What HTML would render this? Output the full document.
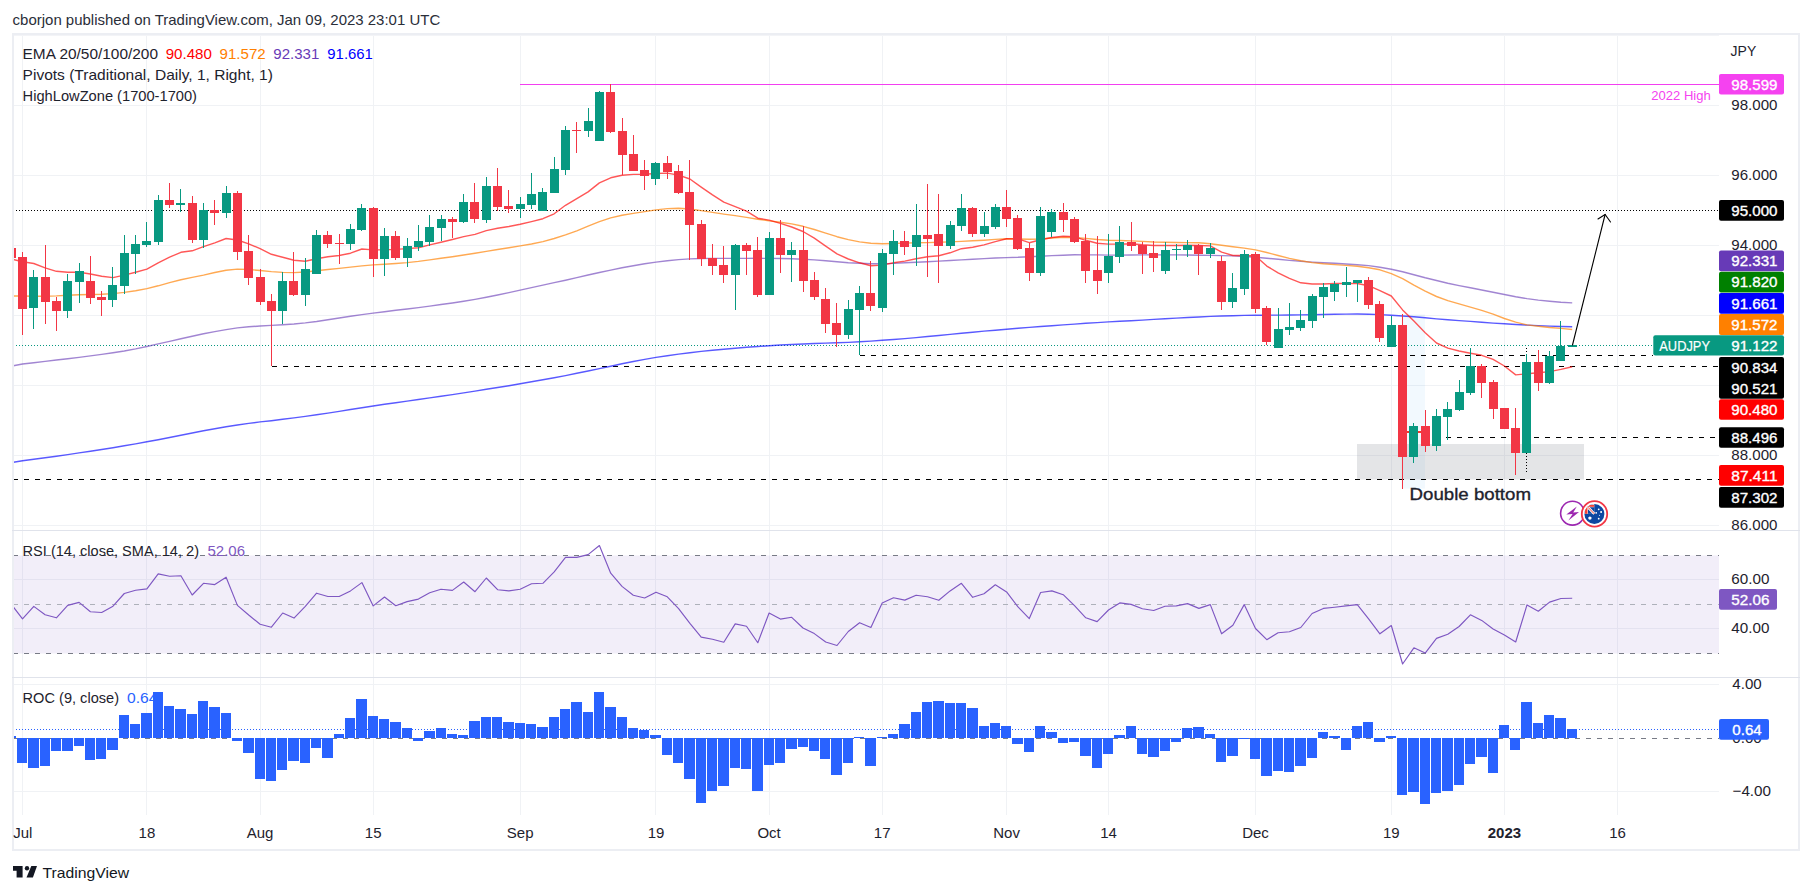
<!DOCTYPE html>
<html><head><meta charset="utf-8"><title>AUDJPY chart</title><style>html,body{margin:0;padding:0;background:#fff}svg{display:block}</style></head><body>
<svg width="1812" height="894" viewBox="0 0 1812 894" font-family='"Liberation Sans", Arial, sans-serif' font-size="14.5">
<rect width="1812" height="894" fill="#fff"/>
<g stroke="#f0f2f5" stroke-width="1" shape-rendering="crispEdges">
<line x1="22.5" y1="35" x2="22.5" y2="815"/>
<line x1="146.5" y1="35" x2="146.5" y2="815"/>
<line x1="260.5" y1="35" x2="260.5" y2="815"/>
<line x1="373.5" y1="35" x2="373.5" y2="815"/>
<line x1="520.5" y1="35" x2="520.5" y2="815"/>
<line x1="655.5" y1="35" x2="655.5" y2="815"/>
<line x1="769.5" y1="35" x2="769.5" y2="815"/>
<line x1="882.5" y1="35" x2="882.5" y2="815"/>
<line x1="1006.5" y1="35" x2="1006.5" y2="815"/>
<line x1="1108.5" y1="35" x2="1108.5" y2="815"/>
<line x1="1255.5" y1="35" x2="1255.5" y2="815"/>
<line x1="1391.5" y1="35" x2="1391.5" y2="815"/>
<line x1="1504.5" y1="35" x2="1504.5" y2="815"/>
<line x1="1617.5" y1="35" x2="1617.5" y2="815"/>
<line x1="13" y1="105.5" x2="1719" y2="105.5"/>
<line x1="13" y1="175.5" x2="1719" y2="175.5"/>
<line x1="13" y1="245.5" x2="1719" y2="245.5"/>
<line x1="13" y1="315.5" x2="1719" y2="315.5"/>
<line x1="13" y1="385.5" x2="1719" y2="385.5"/>
<line x1="13" y1="455.5" x2="1719" y2="455.5"/>
<line x1="13" y1="525.5" x2="1719" y2="525.5"/>
<line x1="13" y1="579.5" x2="1719" y2="579.5"/>
<line x1="13" y1="628.5" x2="1719" y2="628.5"/>
<line x1="13" y1="684.5" x2="1719" y2="684.5"/>
<line x1="13" y1="791.5" x2="1719" y2="791.5"/>
</g>
<rect x="1401.6" y="314.3" width="23.4" height="174.3" fill="#2196f3" fill-opacity="0.06"/>
<rect x="1357" y="444" width="227" height="35.5" fill="#787b86" fill-opacity="0.2"/>
<rect x="13" y="555.5" width="1706" height="98" fill="#7e57c2" fill-opacity="0.1"/>
<line x1="520" y1="84.5" x2="1719" y2="84.5" stroke="#f23ff0" stroke-width="1.2"/>
<line x1="13" y1="210.5" x2="1719" y2="210.5" stroke="#000" stroke-width="1" stroke-dasharray="1 2" shape-rendering="crispEdges"/>
<line x1="13" y1="345.5" x2="1653" y2="345.5" stroke="#089981" stroke-width="1" stroke-dasharray="1 2" shape-rendering="crispEdges"/>
<line x1="860" y1="355.5" x2="1653" y2="355.5" stroke="#000" stroke-width="1" stroke-dasharray="5 6" shape-rendering="crispEdges"/>
<line x1="271.5" y1="366.5" x2="1719" y2="366.5" stroke="#000" stroke-width="1" stroke-dasharray="5 6" shape-rendering="crispEdges"/>
<line x1="1446" y1="437.5" x2="1719" y2="437.5" stroke="#000" stroke-width="1" stroke-dasharray="5 6" shape-rendering="crispEdges"/>
<line x1="13" y1="479.5" x2="1719" y2="479.5" stroke="#000" stroke-width="1" stroke-dasharray="5 6" shape-rendering="crispEdges"/>
<line x1="13" y1="555.5" x2="1719" y2="555.5" stroke="#787b86" stroke-width="1" stroke-dasharray="5 6" shape-rendering="crispEdges"/>
<line x1="13" y1="604.5" x2="1719" y2="604.5" stroke="#aeb1ba" stroke-width="1" stroke-dasharray="5 6" shape-rendering="crispEdges"/>
<line x1="13" y1="653.5" x2="1719" y2="653.5" stroke="#787b86" stroke-width="1" stroke-dasharray="5 6" shape-rendering="crispEdges"/>
<line x1="13" y1="738.5" x2="1719" y2="738.5" stroke="#787b86" stroke-width="1" stroke-dasharray="5 6" shape-rendering="crispEdges"/>
<line x1="13" y1="729.5" x2="1719" y2="729.5" stroke="#2962ff" stroke-width="1" stroke-dasharray="1 2" shape-rendering="crispEdges"/>
<clipPath id="cp"><rect x="13" y="34" width="1706" height="496.5"/></clipPath>
<g clip-path="url(#cp)" fill="none" stroke-width="1.4" stroke-linejoin="round">
<polyline stroke="#0000ff" stroke-opacity="0.65" points="13.5,462.2 22.5,460.8 33.8,459.3 45.1,457.7 56.4,456.2 67.7,454.6 79.1,452.9 90.4,451.2 101.7,449.5 113.0,447.7 124.3,445.8 135.6,443.9 146.9,441.8 158.2,439.7 169.6,437.5 180.9,435.3 192.2,433.0 203.5,430.8 214.8,428.7 226.1,426.8 237.4,425.0 248.7,423.4 260.1,421.9 271.4,420.7 282.7,419.3 294.0,417.9 305.3,416.4 316.6,414.8 327.9,413.1 339.2,411.4 350.5,409.5 361.9,407.7 373.2,406.0 384.5,404.3 395.8,402.7 407.1,401.1 418.4,399.5 429.7,397.9 441.0,396.3 452.4,394.6 463.7,392.9 475.0,391.1 486.3,389.3 497.6,387.5 508.9,385.7 520.2,383.7 531.5,381.7 542.9,379.7 554.2,377.7 565.5,375.6 576.8,373.3 588.1,371.0 599.4,368.6 610.7,366.2 622.0,363.8 633.3,361.5 644.7,359.4 656.0,357.4 667.3,355.7 678.6,354.1 689.9,352.7 701.2,351.4 712.5,350.3 723.8,349.3 735.2,348.3 746.5,347.3 757.8,346.5 769.1,345.7 780.4,345.0 791.7,344.5 803.0,344.0 814.3,343.5 825.7,343.1 837.0,342.8 848.3,342.4 859.6,341.8 870.9,341.1 882.2,340.3 893.5,339.5 904.8,338.6 916.1,337.6 927.5,336.5 938.8,335.5 950.1,334.4 961.4,333.3 972.7,332.2 984.0,331.1 995.3,330.2 1006.6,329.3 1018.0,328.3 1029.3,327.4 1040.6,326.5 1051.9,325.7 1063.2,324.9 1074.5,324.1 1085.8,323.3 1097.1,322.6 1108.5,321.9 1119.8,321.3 1131.1,320.7 1142.4,320.1 1153.7,319.4 1165.0,318.8 1176.3,318.1 1187.6,317.5 1198.9,317.0 1210.3,316.4 1221.6,316.0 1232.9,315.7 1244.2,315.4 1255.5,315.3 1266.8,315.2 1278.1,315.1 1289.4,315.0 1300.8,314.9 1312.1,314.8 1323.4,314.5 1334.7,314.3 1346.0,314.1 1357.3,314.0 1368.6,314.2 1379.9,314.6 1391.3,315.2 1402.6,316.0 1413.9,316.8 1425.2,317.8 1436.5,318.9 1447.8,319.8 1459.1,320.6 1470.4,321.4 1481.7,322.3 1493.1,323.1 1504.4,323.8 1515.7,324.5 1527.0,325.1 1538.3,325.6 1549.6,326.1 1560.9,326.5 1572.2,326.8"/>
<polyline stroke="#673ab7" stroke-opacity="0.62" points="13.4,365.7 22.5,364.0 33.8,362.8 45.1,361.4 56.4,360.0 67.7,358.7 79.1,357.4 90.4,355.9 101.7,354.4 113.0,352.8 124.3,351.0 135.6,348.9 146.9,346.5 158.2,343.9 169.6,341.4 180.9,338.8 192.2,336.3 203.5,333.8 214.8,331.6 226.1,329.6 237.4,327.9 248.7,326.8 260.1,326.0 271.4,325.4 282.7,324.8 294.0,324.0 305.3,322.9 316.6,321.5 327.9,319.8 339.2,318.0 350.5,316.3 361.9,314.6 373.2,313.1 384.5,311.7 395.8,310.3 407.1,309.0 418.4,307.6 429.7,306.1 441.0,304.5 452.4,303.0 463.7,301.3 475.0,299.4 486.3,297.3 497.6,295.0 508.9,292.6 520.2,290.1 531.5,287.6 542.9,285.1 554.2,282.6 565.5,280.2 576.8,277.6 588.1,275.0 599.4,272.5 610.7,270.1 622.0,267.8 633.3,265.7 644.7,263.8 656.0,262.1 667.3,260.7 678.6,259.6 689.9,258.9 701.2,258.5 712.5,258.4 723.8,258.4 735.2,258.4 746.5,258.4 757.8,258.3 769.1,258.4 780.4,258.5 791.7,258.8 803.0,259.2 814.3,259.9 825.7,260.8 837.0,261.7 848.3,262.7 859.6,263.3 870.9,263.7 882.2,263.7 893.5,263.4 904.8,262.8 916.1,262.3 927.5,261.7 938.8,261.1 950.1,260.5 961.4,259.9 972.7,259.2 984.0,258.6 995.3,258.0 1006.6,257.6 1018.0,257.3 1029.3,256.7 1040.6,256.2 1051.9,255.6 1063.2,255.2 1074.5,254.8 1085.8,254.9 1097.1,254.9 1108.5,255.1 1119.8,255.1 1131.1,255.0 1142.4,254.9 1153.7,254.9 1165.0,254.9 1176.3,254.9 1187.6,255.0 1198.9,255.2 1210.3,255.4 1221.6,255.6 1232.9,255.9 1244.2,256.5 1255.5,257.3 1266.8,258.2 1278.1,259.3 1289.4,260.4 1300.8,261.3 1312.1,262.1 1323.4,262.8 1334.7,263.3 1346.0,264.0 1357.3,264.7 1368.6,265.6 1379.9,267.3 1391.3,269.3 1402.6,271.8 1413.9,274.7 1425.2,277.8 1436.5,280.5 1447.8,283.2 1459.1,285.6 1470.4,287.8 1481.7,290.0 1493.1,292.3 1504.4,294.5 1515.7,296.7 1527.0,298.6 1538.3,300.1 1549.6,301.2 1560.9,302.2 1572.2,302.9"/>
<polyline stroke="#ff8000" stroke-opacity="0.68" points="13.4,296.0 22.5,296.0 33.8,296.2 45.1,296.2 56.4,295.9 67.7,295.3 79.1,294.8 90.4,294.5 101.7,294.2 113.0,293.6 124.3,292.4 135.6,290.8 146.9,288.6 158.2,285.8 169.6,282.6 180.9,279.8 192.2,277.4 203.5,275.1 214.8,272.5 226.1,270.3 237.4,269.1 248.7,269.5 260.1,270.5 271.4,271.6 282.7,272.4 294.0,272.6 305.3,272.0 316.6,270.8 327.9,269.5 339.2,268.4 350.5,267.1 361.9,265.9 373.2,264.9 384.5,264.2 395.8,263.5 407.1,262.6 418.4,261.4 429.7,259.9 441.0,258.2 452.4,256.7 463.7,255.0 475.0,253.2 486.3,251.4 497.6,249.5 508.9,247.8 520.2,245.9 531.5,244.0 542.9,241.6 554.2,238.5 565.5,234.9 576.8,230.8 588.1,226.2 599.4,221.7 610.7,217.9 622.0,215.3 633.3,213.4 644.7,211.6 656.0,209.9 667.3,208.6 678.6,208.2 689.9,209.0 701.2,210.6 712.5,212.4 723.8,214.1 735.2,215.6 746.5,217.4 757.8,219.2 769.1,220.9 780.4,222.3 791.7,223.9 803.0,226.3 814.3,229.5 825.7,233.2 837.0,236.7 848.3,239.6 859.6,241.9 870.9,243.2 882.2,243.7 893.5,243.5 904.8,243.1 916.1,242.8 927.5,242.6 938.8,242.3 950.1,241.9 961.4,241.4 972.7,240.8 984.0,240.2 995.3,239.4 1006.6,238.8 1018.0,239.0 1029.3,239.3 1040.6,239.0 1051.9,238.0 1063.2,237.3 1074.5,237.5 1085.8,238.4 1097.1,239.5 1108.5,240.2 1119.8,240.5 1131.1,240.9 1142.4,241.4 1153.7,242.0 1165.0,242.3 1176.3,242.5 1187.6,242.6 1198.9,242.8 1210.3,243.8 1221.6,245.3 1232.9,246.8 1244.2,248.1 1255.5,249.9 1266.8,252.5 1278.1,255.5 1289.4,258.4 1300.8,260.8 1312.1,262.6 1323.4,263.8 1334.7,264.6 1346.0,265.4 1357.3,266.3 1368.6,267.8 1379.9,269.8 1391.3,273.7 1402.6,278.6 1413.9,285.1 1425.2,291.2 1436.5,296.5 1447.8,300.7 1459.1,303.9 1470.4,307.1 1481.7,310.4 1493.1,314.2 1504.4,318.5 1515.7,322.1 1527.0,324.9 1538.3,326.3 1549.6,327.5 1560.9,328.4 1572.2,329.5"/>
<polyline stroke="#ff0000" stroke-opacity="0.66" points="13.4,259.5 22.5,261.7 33.8,263.5 45.1,267.8 56.4,271.3 67.7,272.2 79.1,272.2 90.4,274.0 101.7,276.3 113.0,277.6 124.3,275.1 135.6,272.2 146.9,269.1 158.2,262.8 169.6,257.2 180.9,252.3 192.2,250.8 203.5,246.7 214.8,242.9 226.1,238.5 237.4,240.0 248.7,243.8 260.1,248.7 271.4,254.3 282.7,257.2 294.0,260.2 305.3,261.3 316.6,258.8 327.9,256.8 339.2,255.5 350.5,253.2 361.9,249.0 373.2,249.9 384.5,249.9 395.8,249.4 407.1,248.6 418.4,247.8 429.7,244.9 441.0,242.2 452.4,239.5 463.7,236.6 475.0,234.4 486.3,230.6 497.6,228.3 508.9,226.5 520.2,224.3 531.5,221.6 542.9,218.7 554.2,213.8 565.5,205.3 576.8,198.6 588.1,191.9 599.4,182.9 610.7,177.8 622.0,175.3 633.3,174.4 644.7,174.2 656.0,173.5 667.3,173.1 678.6,175.1 689.9,179.0 701.2,187.1 712.5,194.9 723.8,202.2 735.2,206.7 746.5,211.1 757.8,218.2 769.1,220.1 780.4,223.4 791.7,227.0 803.0,231.5 814.3,238.2 825.7,246.1 837.0,253.9 848.3,259.0 859.6,262.8 870.9,265.7 882.2,265.1 893.5,262.8 904.8,261.1 916.1,258.8 927.5,256.8 938.8,255.7 950.1,252.8 961.4,248.7 972.7,247.2 984.0,244.9 995.3,241.6 1006.6,238.7 1018.0,238.9 1029.3,242.7 1040.6,239.8 1051.9,237.5 1063.2,236.2 1074.5,236.8 1085.8,240.3 1097.1,243.2 1108.5,244.1 1119.8,244.1 1131.1,243.7 1142.4,244.8 1153.7,245.5 1165.0,245.5 1176.3,245.5 1187.6,245.3 1198.9,245.5 1210.3,245.9 1221.6,252.2 1232.9,255.5 1244.2,255.5 1255.5,256.0 1266.8,266.1 1278.1,272.8 1289.4,278.4 1300.8,282.8 1312.1,284.0 1323.4,284.0 1334.7,283.5 1346.0,283.5 1357.3,283.5 1368.6,285.7 1379.9,290.6 1391.3,296.0 1402.6,309.9 1413.9,321.1 1425.2,332.7 1436.5,343.0 1447.8,348.1 1459.1,351.0 1470.4,353.2 1481.7,355.3 1493.1,359.3 1504.4,366.0 1515.7,374.9 1527.0,373.8 1538.3,372.7 1549.6,371.6 1560.9,369.4 1572.2,366.7"/>
</g>
<line x1="1526.5" y1="348" x2="1526.5" y2="473" stroke="#000" stroke-width="1" stroke-dasharray="1 2" shape-rendering="crispEdges"/>
<rect x="1401.6" y="431" width="23.4" height="2" fill="#f4382c" shape-rendering="crispEdges"/>
<g clip-path="url(#cp)" shape-rendering="crispEdges">
<rect x="13" y="248" width="3" height="10" fill="#f23645"/>
<rect x="22" y="252" width="1" height="83" fill="#f23645"/>
<rect x="18" y="257" width="9" height="52" fill="#f23645"/>
<rect x="33" y="270" width="1" height="59" fill="#089981"/>
<rect x="29" y="277" width="9" height="31" fill="#089981"/>
<rect x="45" y="245" width="1" height="79" fill="#f23645"/>
<rect x="41" y="277" width="9" height="25" fill="#f23645"/>
<rect x="56" y="297" width="1" height="34" fill="#f23645"/>
<rect x="52" y="301" width="9" height="10" fill="#f23645"/>
<rect x="67" y="274" width="1" height="44" fill="#089981"/>
<rect x="63" y="281" width="9" height="30" fill="#089981"/>
<rect x="79" y="263" width="1" height="40" fill="#089981"/>
<rect x="75" y="271" width="9" height="11" fill="#089981"/>
<rect x="90" y="256" width="1" height="48" fill="#f23645"/>
<rect x="86" y="281" width="9" height="17" fill="#f23645"/>
<rect x="101" y="291" width="1" height="25" fill="#f23645"/>
<rect x="97" y="297" width="9" height="3" fill="#f23645"/>
<rect x="112" y="267" width="1" height="40" fill="#089981"/>
<rect x="108" y="285" width="9" height="15" fill="#089981"/>
<rect x="124" y="235" width="1" height="59" fill="#089981"/>
<rect x="120" y="253" width="9" height="33" fill="#089981"/>
<rect x="135" y="235" width="1" height="39" fill="#089981"/>
<rect x="131" y="244" width="9" height="10" fill="#089981"/>
<rect x="146" y="222" width="1" height="25" fill="#089981"/>
<rect x="142" y="241" width="9" height="4" fill="#089981"/>
<rect x="158" y="195" width="1" height="50" fill="#089981"/>
<rect x="154" y="200" width="9" height="42" fill="#089981"/>
<rect x="169" y="183" width="1" height="25" fill="#f23645"/>
<rect x="165" y="200" width="9" height="5" fill="#f23645"/>
<rect x="180" y="189" width="1" height="23" fill="#089981"/>
<rect x="176" y="203" width="9" height="2" fill="#089981"/>
<rect x="192" y="196" width="1" height="47" fill="#f23645"/>
<rect x="188" y="203" width="9" height="37" fill="#f23645"/>
<rect x="203" y="203" width="1" height="45" fill="#089981"/>
<rect x="199" y="210" width="9" height="30" fill="#089981"/>
<rect x="214" y="200" width="1" height="25" fill="#f23645"/>
<rect x="210" y="210" width="9" height="3" fill="#f23645"/>
<rect x="226" y="186" width="1" height="32" fill="#089981"/>
<rect x="222" y="193" width="9" height="20" fill="#089981"/>
<rect x="237" y="191" width="1" height="69" fill="#f23645"/>
<rect x="233" y="193" width="9" height="59" fill="#f23645"/>
<rect x="248" y="235" width="1" height="50" fill="#f23645"/>
<rect x="244" y="251" width="9" height="27" fill="#f23645"/>
<rect x="260" y="269" width="1" height="36" fill="#f23645"/>
<rect x="256" y="277" width="9" height="25" fill="#f23645"/>
<rect x="271" y="294" width="1" height="72" fill="#f23645"/>
<rect x="267" y="301" width="9" height="10" fill="#f23645"/>
<rect x="282" y="272" width="1" height="52" fill="#089981"/>
<rect x="278" y="281" width="9" height="30" fill="#089981"/>
<rect x="293" y="252" width="1" height="44" fill="#f23645"/>
<rect x="289" y="281" width="9" height="14" fill="#f23645"/>
<rect x="305" y="258" width="1" height="48" fill="#089981"/>
<rect x="301" y="269" width="9" height="26" fill="#089981"/>
<rect x="316" y="230" width="1" height="44" fill="#089981"/>
<rect x="312" y="235" width="9" height="39" fill="#089981"/>
<rect x="327" y="231" width="1" height="17" fill="#f23645"/>
<rect x="323" y="235" width="9" height="9" fill="#f23645"/>
<rect x="339" y="234" width="1" height="30" fill="#f23645"/>
<rect x="335" y="243" width="9" height="1" fill="#f23645"/>
<rect x="350" y="224" width="1" height="26" fill="#089981"/>
<rect x="346" y="229" width="9" height="15" fill="#089981"/>
<rect x="361" y="204" width="1" height="27" fill="#089981"/>
<rect x="357" y="208" width="9" height="22" fill="#089981"/>
<rect x="373" y="207" width="1" height="70" fill="#f23645"/>
<rect x="369" y="208" width="9" height="51" fill="#f23645"/>
<rect x="384" y="228" width="1" height="48" fill="#089981"/>
<rect x="380" y="236" width="9" height="23" fill="#089981"/>
<rect x="395" y="231" width="1" height="29" fill="#f23645"/>
<rect x="391" y="236" width="9" height="22" fill="#f23645"/>
<rect x="407" y="238" width="1" height="29" fill="#089981"/>
<rect x="403" y="246" width="9" height="12" fill="#089981"/>
<rect x="418" y="225" width="1" height="26" fill="#089981"/>
<rect x="414" y="241" width="9" height="6" fill="#089981"/>
<rect x="429" y="215" width="1" height="31" fill="#089981"/>
<rect x="425" y="227" width="9" height="15" fill="#089981"/>
<rect x="441" y="215" width="1" height="26" fill="#089981"/>
<rect x="437" y="219" width="9" height="9" fill="#089981"/>
<rect x="452" y="217" width="1" height="21" fill="#f23645"/>
<rect x="448" y="219" width="9" height="3" fill="#f23645"/>
<rect x="463" y="194" width="1" height="29" fill="#089981"/>
<rect x="459" y="202" width="9" height="20" fill="#089981"/>
<rect x="474" y="183" width="1" height="40" fill="#f23645"/>
<rect x="470" y="202" width="9" height="17" fill="#f23645"/>
<rect x="486" y="177" width="1" height="46" fill="#089981"/>
<rect x="482" y="186" width="9" height="34" fill="#089981"/>
<rect x="497" y="168" width="1" height="43" fill="#f23645"/>
<rect x="493" y="186" width="9" height="21" fill="#f23645"/>
<rect x="508" y="190" width="1" height="23" fill="#f23645"/>
<rect x="504" y="206" width="9" height="3" fill="#f23645"/>
<rect x="520" y="197" width="1" height="21" fill="#089981"/>
<rect x="516" y="204" width="9" height="5" fill="#089981"/>
<rect x="531" y="173" width="1" height="36" fill="#089981"/>
<rect x="527" y="194" width="9" height="11" fill="#089981"/>
<rect x="542" y="188" width="1" height="23" fill="#089981"/>
<rect x="538" y="192" width="9" height="19" fill="#089981"/>
<rect x="554" y="157" width="1" height="36" fill="#089981"/>
<rect x="550" y="169" width="9" height="24" fill="#089981"/>
<rect x="565" y="126" width="1" height="49" fill="#089981"/>
<rect x="561" y="130" width="9" height="40" fill="#089981"/>
<rect x="576" y="122" width="1" height="31" fill="#f23645"/>
<rect x="572" y="130" width="9" height="1" fill="#f23645"/>
<rect x="588" y="108" width="1" height="29" fill="#089981"/>
<rect x="584" y="121" width="9" height="10" fill="#089981"/>
<rect x="599" y="91" width="1" height="50" fill="#089981"/>
<rect x="595" y="92" width="9" height="49" fill="#089981"/>
<rect x="610" y="84" width="1" height="49" fill="#f23645"/>
<rect x="606" y="92" width="9" height="40" fill="#f23645"/>
<rect x="622" y="118" width="1" height="57" fill="#f23645"/>
<rect x="618" y="131" width="9" height="24" fill="#f23645"/>
<rect x="633" y="135" width="1" height="36" fill="#f23645"/>
<rect x="629" y="154" width="9" height="17" fill="#f23645"/>
<rect x="644" y="160" width="1" height="30" fill="#f23645"/>
<rect x="640" y="170" width="9" height="6" fill="#f23645"/>
<rect x="655" y="162" width="1" height="23" fill="#089981"/>
<rect x="651" y="163" width="9" height="16" fill="#089981"/>
<rect x="667" y="156" width="1" height="23" fill="#f23645"/>
<rect x="663" y="163" width="9" height="9" fill="#f23645"/>
<rect x="678" y="165" width="1" height="29" fill="#f23645"/>
<rect x="674" y="171" width="9" height="22" fill="#f23645"/>
<rect x="689" y="160" width="1" height="100" fill="#f23645"/>
<rect x="685" y="192" width="9" height="33" fill="#f23645"/>
<rect x="701" y="220" width="1" height="46" fill="#f23645"/>
<rect x="697" y="224" width="9" height="35" fill="#f23645"/>
<rect x="712" y="244" width="1" height="31" fill="#f23645"/>
<rect x="708" y="258" width="9" height="8" fill="#f23645"/>
<rect x="723" y="246" width="1" height="37" fill="#f23645"/>
<rect x="719" y="265" width="9" height="10" fill="#f23645"/>
<rect x="735" y="244" width="1" height="66" fill="#089981"/>
<rect x="731" y="245" width="9" height="30" fill="#089981"/>
<rect x="746" y="243" width="1" height="32" fill="#f23645"/>
<rect x="742" y="245" width="9" height="6" fill="#f23645"/>
<rect x="757" y="237" width="1" height="60" fill="#f23645"/>
<rect x="753" y="250" width="9" height="45" fill="#f23645"/>
<rect x="769" y="232" width="1" height="63" fill="#089981"/>
<rect x="765" y="238" width="9" height="57" fill="#089981"/>
<rect x="780" y="220" width="1" height="53" fill="#f23645"/>
<rect x="776" y="238" width="9" height="17" fill="#f23645"/>
<rect x="791" y="242" width="1" height="40" fill="#089981"/>
<rect x="787" y="250" width="9" height="5" fill="#089981"/>
<rect x="803" y="226" width="1" height="66" fill="#f23645"/>
<rect x="799" y="250" width="9" height="31" fill="#f23645"/>
<rect x="814" y="272" width="1" height="28" fill="#f23645"/>
<rect x="810" y="280" width="9" height="17" fill="#f23645"/>
<rect x="825" y="288" width="1" height="45" fill="#f23645"/>
<rect x="821" y="299" width="9" height="25" fill="#f23645"/>
<rect x="836" y="303" width="1" height="44" fill="#f23645"/>
<rect x="832" y="323" width="9" height="12" fill="#f23645"/>
<rect x="848" y="300" width="1" height="39" fill="#089981"/>
<rect x="844" y="309" width="9" height="26" fill="#089981"/>
<rect x="859" y="286" width="1" height="69" fill="#089981"/>
<rect x="855" y="293" width="9" height="17" fill="#089981"/>
<rect x="870" y="261" width="1" height="50" fill="#f23645"/>
<rect x="866" y="293" width="9" height="13" fill="#f23645"/>
<rect x="882" y="249" width="1" height="63" fill="#089981"/>
<rect x="878" y="253" width="9" height="55" fill="#089981"/>
<rect x="893" y="230" width="1" height="45" fill="#089981"/>
<rect x="889" y="241" width="9" height="13" fill="#089981"/>
<rect x="904" y="231" width="1" height="24" fill="#f23645"/>
<rect x="900" y="241" width="9" height="6" fill="#f23645"/>
<rect x="916" y="204" width="1" height="62" fill="#089981"/>
<rect x="912" y="235" width="9" height="12" fill="#089981"/>
<rect x="927" y="184" width="1" height="93" fill="#f23645"/>
<rect x="923" y="235" width="9" height="4" fill="#f23645"/>
<rect x="938" y="194" width="1" height="89" fill="#f23645"/>
<rect x="934" y="234" width="9" height="12" fill="#f23645"/>
<rect x="950" y="221" width="1" height="28" fill="#089981"/>
<rect x="946" y="225" width="9" height="21" fill="#089981"/>
<rect x="961" y="194" width="1" height="37" fill="#089981"/>
<rect x="957" y="208" width="9" height="18" fill="#089981"/>
<rect x="972" y="207" width="1" height="30" fill="#f23645"/>
<rect x="968" y="208" width="9" height="26" fill="#f23645"/>
<rect x="984" y="212" width="1" height="25" fill="#089981"/>
<rect x="980" y="226" width="9" height="8" fill="#089981"/>
<rect x="995" y="204" width="1" height="25" fill="#089981"/>
<rect x="991" y="207" width="9" height="20" fill="#089981"/>
<rect x="1006" y="190" width="1" height="37" fill="#f23645"/>
<rect x="1002" y="207" width="9" height="12" fill="#f23645"/>
<rect x="1017" y="215" width="1" height="35" fill="#f23645"/>
<rect x="1013" y="218" width="9" height="31" fill="#f23645"/>
<rect x="1029" y="243" width="1" height="38" fill="#f23645"/>
<rect x="1025" y="248" width="9" height="25" fill="#f23645"/>
<rect x="1040" y="207" width="1" height="69" fill="#089981"/>
<rect x="1036" y="216" width="9" height="57" fill="#089981"/>
<rect x="1051" y="209" width="1" height="28" fill="#089981"/>
<rect x="1047" y="212" width="9" height="20" fill="#089981"/>
<rect x="1063" y="203" width="1" height="29" fill="#f23645"/>
<rect x="1059" y="212" width="9" height="8" fill="#f23645"/>
<rect x="1074" y="217" width="1" height="26" fill="#f23645"/>
<rect x="1070" y="219" width="9" height="23" fill="#f23645"/>
<rect x="1085" y="234" width="1" height="49" fill="#f23645"/>
<rect x="1081" y="241" width="9" height="30" fill="#f23645"/>
<rect x="1097" y="236" width="1" height="58" fill="#f23645"/>
<rect x="1093" y="270" width="9" height="11" fill="#f23645"/>
<rect x="1108" y="234" width="1" height="49" fill="#089981"/>
<rect x="1104" y="256" width="9" height="17" fill="#089981"/>
<rect x="1119" y="226" width="1" height="37" fill="#089981"/>
<rect x="1115" y="242" width="9" height="15" fill="#089981"/>
<rect x="1131" y="222" width="1" height="29" fill="#f23645"/>
<rect x="1127" y="242" width="9" height="4" fill="#f23645"/>
<rect x="1142" y="242" width="1" height="32" fill="#f23645"/>
<rect x="1138" y="245" width="9" height="9" fill="#f23645"/>
<rect x="1153" y="241" width="1" height="31" fill="#f23645"/>
<rect x="1149" y="253" width="9" height="5" fill="#f23645"/>
<rect x="1165" y="242" width="1" height="32" fill="#089981"/>
<rect x="1161" y="250" width="9" height="21" fill="#089981"/>
<rect x="1176" y="244" width="1" height="16" fill="#089981"/>
<rect x="1172" y="249" width="9" height="1" fill="#089981"/>
<rect x="1187" y="240" width="1" height="17" fill="#089981"/>
<rect x="1183" y="245" width="9" height="5" fill="#089981"/>
<rect x="1198" y="244" width="1" height="31" fill="#f23645"/>
<rect x="1194" y="245" width="9" height="9" fill="#f23645"/>
<rect x="1210" y="243" width="1" height="15" fill="#089981"/>
<rect x="1206" y="248" width="9" height="6" fill="#089981"/>
<rect x="1221" y="256" width="1" height="54" fill="#f23645"/>
<rect x="1217" y="261" width="9" height="41" fill="#f23645"/>
<rect x="1232" y="273" width="1" height="35" fill="#089981"/>
<rect x="1228" y="288" width="9" height="14" fill="#089981"/>
<rect x="1244" y="250" width="1" height="45" fill="#089981"/>
<rect x="1240" y="254" width="9" height="35" fill="#089981"/>
<rect x="1255" y="252" width="1" height="61" fill="#f23645"/>
<rect x="1251" y="254" width="9" height="55" fill="#f23645"/>
<rect x="1266" y="306" width="1" height="39" fill="#f23645"/>
<rect x="1262" y="308" width="9" height="34" fill="#f23645"/>
<rect x="1278" y="308" width="1" height="40" fill="#089981"/>
<rect x="1274" y="329" width="9" height="19" fill="#089981"/>
<rect x="1289" y="303" width="1" height="32" fill="#089981"/>
<rect x="1285" y="327" width="9" height="3" fill="#089981"/>
<rect x="1300" y="310" width="1" height="21" fill="#089981"/>
<rect x="1296" y="320" width="9" height="8" fill="#089981"/>
<rect x="1312" y="294" width="1" height="34" fill="#089981"/>
<rect x="1308" y="296" width="9" height="25" fill="#089981"/>
<rect x="1323" y="283" width="1" height="35" fill="#089981"/>
<rect x="1319" y="287" width="9" height="10" fill="#089981"/>
<rect x="1334" y="281" width="1" height="20" fill="#089981"/>
<rect x="1330" y="284" width="9" height="8" fill="#089981"/>
<rect x="1346" y="267" width="1" height="30" fill="#089981"/>
<rect x="1342" y="282" width="9" height="3" fill="#089981"/>
<rect x="1357" y="280" width="1" height="22" fill="#089981"/>
<rect x="1353" y="280" width="9" height="3" fill="#089981"/>
<rect x="1368" y="277" width="1" height="32" fill="#f23645"/>
<rect x="1364" y="280" width="9" height="25" fill="#f23645"/>
<rect x="1379" y="301" width="1" height="41" fill="#f23645"/>
<rect x="1375" y="304" width="9" height="34" fill="#f23645"/>
<rect x="1391" y="316" width="1" height="31" fill="#089981"/>
<rect x="1387" y="325" width="9" height="22" fill="#089981"/>
<rect x="1402" y="314" width="1" height="175" fill="#f23645"/>
<rect x="1398" y="325" width="9" height="132" fill="#f23645"/>
<rect x="1413" y="423" width="1" height="40" fill="#089981"/>
<rect x="1409" y="426" width="9" height="31" fill="#089981"/>
<rect x="1425" y="410" width="1" height="42" fill="#f23645"/>
<rect x="1421" y="426" width="9" height="20" fill="#f23645"/>
<rect x="1436" y="409" width="1" height="42" fill="#089981"/>
<rect x="1432" y="416" width="9" height="30" fill="#089981"/>
<rect x="1447" y="402" width="1" height="38" fill="#089981"/>
<rect x="1443" y="409" width="9" height="8" fill="#089981"/>
<rect x="1459" y="380" width="1" height="31" fill="#089981"/>
<rect x="1455" y="392" width="9" height="18" fill="#089981"/>
<rect x="1470" y="348" width="1" height="47" fill="#089981"/>
<rect x="1466" y="366" width="9" height="27" fill="#089981"/>
<rect x="1481" y="364" width="1" height="34" fill="#f23645"/>
<rect x="1477" y="366" width="9" height="17" fill="#f23645"/>
<rect x="1493" y="380" width="1" height="39" fill="#f23645"/>
<rect x="1489" y="382" width="9" height="27" fill="#f23645"/>
<rect x="1504" y="408" width="1" height="21" fill="#f23645"/>
<rect x="1500" y="408" width="9" height="21" fill="#f23645"/>
<rect x="1515" y="408" width="1" height="67" fill="#f23645"/>
<rect x="1511" y="428" width="9" height="25" fill="#f23645"/>
<rect x="1526" y="354" width="1" height="99" fill="#089981"/>
<rect x="1522" y="362" width="9" height="91" fill="#089981"/>
<rect x="1538" y="350" width="1" height="41" fill="#f23645"/>
<rect x="1534" y="362" width="9" height="21" fill="#f23645"/>
<rect x="1549" y="351" width="1" height="33" fill="#089981"/>
<rect x="1545" y="356" width="9" height="27" fill="#089981"/>
<rect x="1560" y="321" width="1" height="40" fill="#089981"/>
<rect x="1556" y="346" width="9" height="15" fill="#089981"/>
<rect x="1572" y="345" width="1" height="2" fill="#089981"/>
<rect x="1568" y="345" width="9" height="2" fill="#089981"/>
</g>
<g stroke="#000" stroke-width="1.1" fill="none" stroke-linecap="round"><line x1="1572.5" y1="345" x2="1605.1" y2="214.5"/><polyline points="1598,219 1605.1,214.5 1610.5,222"/></g>
<clipPath id="cp2"><rect x="13" y="530.5" width="1706" height="147.0"/></clipPath>
<polyline clip-path="url(#cp2)" fill="none" stroke="#7e57c2" stroke-width="1.15" stroke-linejoin="round" points="11.2,604.1 22.5,618.9 33.8,606.4 45.1,614.8 56.4,617.8 67.7,605.4 79.1,602.4 90.4,611.7 101.7,612.5 113.0,606.2 124.3,593.5 135.6,590.2 146.9,588.9 158.2,573.9 169.6,576.2 180.9,575.7 192.2,595.0 203.5,583.3 214.8,584.6 226.1,577.2 237.4,605.4 248.7,615.0 260.1,624.2 271.4,627.2 282.7,613.0 294.0,618.1 305.3,606.4 316.6,593.2 327.9,596.5 339.2,596.5 350.5,590.9 361.9,582.6 373.2,605.9 384.5,597.0 395.8,605.7 407.1,601.6 418.4,599.1 429.7,592.7 441.0,589.2 452.4,590.4 463.7,582.0 475.0,591.7 486.3,578.0 497.6,589.7 508.9,590.9 520.2,589.2 531.5,583.8 542.9,583.3 554.2,571.9 565.5,557.4 576.8,557.4 588.1,554.6 599.4,545.5 610.7,573.2 622.0,586.4 633.3,595.2 644.7,598.0 656.0,592.2 667.3,596.8 678.6,608.7 689.9,623.4 701.2,637.1 712.5,639.2 723.8,642.2 735.2,623.9 746.5,626.2 757.8,642.7 769.1,613.0 780.4,619.1 791.7,617.3 803.0,628.0 814.3,633.6 825.7,642.0 837.0,645.5 848.3,631.5 859.6,622.7 870.9,627.5 882.2,602.9 893.5,597.8 904.8,600.1 916.1,595.2 927.5,596.8 938.8,600.3 950.1,590.9 961.4,583.3 972.7,597.3 984.0,593.7 995.3,584.8 1006.6,591.9 1018.0,606.9 1029.3,618.6 1040.6,592.5 1051.9,590.9 1063.2,594.7 1074.5,605.7 1085.8,617.8 1097.1,621.6 1108.5,610.0 1119.8,602.9 1131.1,604.4 1142.4,608.7 1153.7,610.5 1165.0,606.2 1176.3,605.9 1187.6,603.6 1198.9,608.4 1210.3,604.6 1221.6,633.8 1232.9,625.2 1244.2,604.6 1255.5,628.5 1266.8,639.7 1278.1,632.8 1289.4,631.8 1300.8,627.5 1312.1,613.5 1323.4,608.4 1334.7,607.2 1346.0,605.9 1357.3,604.6 1368.6,618.9 1379.9,633.8 1391.3,625.5 1402.6,664.0 1413.9,647.8 1425.2,653.1 1436.5,638.4 1447.8,634.3 1459.1,626.5 1470.4,614.8 1481.7,620.4 1493.1,629.0 1504.4,635.1 1515.7,642.0 1527.0,604.9 1538.3,611.2 1549.6,602.1 1560.9,598.5 1572.2,598.3"/>
<clipPath id="cp3"><rect x="13" y="677.5" width="1706" height="137.5"/></clipPath>
<g clip-path="url(#cp3)" fill="#2962ff" shape-rendering="crispEdges">
<rect x="6" y="736" width="10" height="2"/>
<rect x="17" y="738" width="10" height="25"/>
<rect x="28" y="738" width="11" height="30"/>
<rect x="40" y="738" width="10" height="28"/>
<rect x="51" y="738" width="10" height="13"/>
<rect x="62" y="738" width="11" height="13"/>
<rect x="74" y="738" width="10" height="8"/>
<rect x="85" y="738" width="10" height="22"/>
<rect x="96" y="738" width="10" height="21"/>
<rect x="107" y="738" width="11" height="12"/>
<rect x="119" y="715" width="10" height="23"/>
<rect x="130" y="724" width="10" height="14"/>
<rect x="141" y="713" width="11" height="25"/>
<rect x="153" y="692" width="10" height="46"/>
<rect x="164" y="706" width="10" height="32"/>
<rect x="175" y="709" width="11" height="29"/>
<rect x="187" y="714" width="10" height="24"/>
<rect x="198" y="701" width="10" height="37"/>
<rect x="209" y="707" width="11" height="31"/>
<rect x="221" y="713" width="10" height="25"/>
<rect x="232" y="738" width="10" height="3"/>
<rect x="243" y="738" width="11" height="15"/>
<rect x="255" y="738" width="10" height="41"/>
<rect x="266" y="738" width="10" height="43"/>
<rect x="277" y="738" width="10" height="32"/>
<rect x="288" y="738" width="11" height="23"/>
<rect x="300" y="738" width="10" height="25"/>
<rect x="311" y="738" width="10" height="10"/>
<rect x="322" y="738" width="11" height="20"/>
<rect x="334" y="734" width="10" height="4"/>
<rect x="345" y="718" width="10" height="20"/>
<rect x="356" y="699" width="11" height="39"/>
<rect x="368" y="716" width="10" height="22"/>
<rect x="379" y="719" width="10" height="19"/>
<rect x="390" y="722" width="11" height="16"/>
<rect x="402" y="728" width="10" height="10"/>
<rect x="413" y="738" width="10" height="3"/>
<rect x="424" y="731" width="11" height="7"/>
<rect x="436" y="728" width="10" height="10"/>
<rect x="447" y="734" width="10" height="4"/>
<rect x="458" y="735" width="10" height="3"/>
<rect x="469" y="721" width="11" height="17"/>
<rect x="481" y="717" width="10" height="21"/>
<rect x="492" y="717" width="10" height="21"/>
<rect x="503" y="722" width="11" height="16"/>
<rect x="515" y="723" width="10" height="15"/>
<rect x="526" y="724" width="10" height="14"/>
<rect x="537" y="727" width="11" height="11"/>
<rect x="549" y="717" width="10" height="21"/>
<rect x="560" y="709" width="10" height="29"/>
<rect x="571" y="702" width="11" height="36"/>
<rect x="583" y="712" width="10" height="26"/>
<rect x="594" y="692" width="10" height="46"/>
<rect x="605" y="707" width="11" height="31"/>
<rect x="617" y="717" width="10" height="21"/>
<rect x="628" y="728" width="10" height="10"/>
<rect x="639" y="730" width="10" height="8"/>
<rect x="650" y="735" width="11" height="3"/>
<rect x="662" y="738" width="10" height="17"/>
<rect x="673" y="738" width="10" height="25"/>
<rect x="684" y="738" width="11" height="41"/>
<rect x="696" y="738" width="10" height="65"/>
<rect x="707" y="738" width="10" height="53"/>
<rect x="718" y="738" width="11" height="48"/>
<rect x="730" y="738" width="10" height="30"/>
<rect x="741" y="738" width="10" height="31"/>
<rect x="752" y="738" width="11" height="53"/>
<rect x="764" y="738" width="10" height="27"/>
<rect x="775" y="738" width="10" height="25"/>
<rect x="786" y="738" width="11" height="11"/>
<rect x="798" y="738" width="10" height="9"/>
<rect x="809" y="738" width="10" height="13"/>
<rect x="820" y="738" width="10" height="21"/>
<rect x="831" y="738" width="11" height="37"/>
<rect x="843" y="738" width="10" height="25"/>
<rect x="854" y="737" width="10" height="1"/>
<rect x="865" y="738" width="11" height="28"/>
<rect x="877" y="737" width="10" height="1"/>
<rect x="888" y="734" width="10" height="4"/>
<rect x="899" y="724" width="11" height="14"/>
<rect x="911" y="712" width="10" height="26"/>
<rect x="922" y="702" width="10" height="36"/>
<rect x="933" y="701" width="11" height="37"/>
<rect x="945" y="703" width="10" height="35"/>
<rect x="956" y="703" width="10" height="35"/>
<rect x="967" y="708" width="11" height="30"/>
<rect x="979" y="726" width="10" height="12"/>
<rect x="990" y="723" width="10" height="15"/>
<rect x="1001" y="726" width="10" height="12"/>
<rect x="1012" y="738" width="11" height="6"/>
<rect x="1024" y="738" width="10" height="14"/>
<rect x="1035" y="726" width="10" height="12"/>
<rect x="1046" y="732" width="11" height="6"/>
<rect x="1058" y="738" width="10" height="5"/>
<rect x="1069" y="738" width="10" height="4"/>
<rect x="1080" y="738" width="11" height="18"/>
<rect x="1092" y="738" width="10" height="30"/>
<rect x="1103" y="738" width="10" height="16"/>
<rect x="1114" y="735" width="11" height="3"/>
<rect x="1126" y="726" width="10" height="12"/>
<rect x="1137" y="738" width="10" height="16"/>
<rect x="1148" y="738" width="11" height="19"/>
<rect x="1160" y="738" width="10" height="13"/>
<rect x="1171" y="738" width="10" height="4"/>
<rect x="1182" y="728" width="10" height="10"/>
<rect x="1193" y="727" width="11" height="11"/>
<rect x="1205" y="734" width="10" height="4"/>
<rect x="1216" y="738" width="10" height="24"/>
<rect x="1227" y="738" width="11" height="18"/>
<rect x="1239" y="738" width="10" height="1"/>
<rect x="1250" y="738" width="10" height="21"/>
<rect x="1261" y="738" width="11" height="38"/>
<rect x="1273" y="738" width="10" height="33"/>
<rect x="1284" y="738" width="10" height="34"/>
<rect x="1295" y="738" width="11" height="28"/>
<rect x="1307" y="738" width="10" height="20"/>
<rect x="1318" y="732" width="10" height="6"/>
<rect x="1329" y="736" width="11" height="2"/>
<rect x="1341" y="738" width="10" height="12"/>
<rect x="1352" y="726" width="10" height="12"/>
<rect x="1363" y="722" width="10" height="16"/>
<rect x="1374" y="738" width="11" height="4"/>
<rect x="1386" y="736" width="10" height="2"/>
<rect x="1397" y="738" width="10" height="57"/>
<rect x="1408" y="738" width="11" height="54"/>
<rect x="1420" y="738" width="10" height="66"/>
<rect x="1431" y="738" width="10" height="55"/>
<rect x="1442" y="738" width="11" height="53"/>
<rect x="1454" y="738" width="10" height="47"/>
<rect x="1465" y="738" width="10" height="26"/>
<rect x="1476" y="738" width="11" height="19"/>
<rect x="1488" y="738" width="10" height="35"/>
<rect x="1499" y="725" width="10" height="13"/>
<rect x="1510" y="738" width="10" height="12"/>
<rect x="1521" y="702" width="11" height="36"/>
<rect x="1533" y="723" width="10" height="15"/>
<rect x="1544" y="715" width="10" height="23"/>
<rect x="1555" y="718" width="11" height="20"/>
<rect x="1567" y="729" width="10" height="9"/>
</g>
<g fill="#eceef3" shape-rendering="crispEdges">
<rect x="12" y="33" width="1788" height="2"/>
<rect x="12" y="849" width="1788" height="2"/>
<rect x="12" y="33" width="2" height="818"/>
<rect x="1798" y="33" width="2" height="818"/>
<rect x="14" y="35" width="1705" height="1" fill="#f3f4f7"/>
<rect x="12" y="530" width="1788" height="1" fill="#e0e3eb"/>
<rect x="12" y="677" width="1788" height="1" fill="#e0e3eb"/>
</g>
<text x="12.6" y="24.8" font-size="15" fill="#2a2e39" textLength="427.6" lengthAdjust="spacingAndGlyphs">cborjon published on TradingView.com, Jan 09, 2023 23:01 UTC</text>
<text x="22.6" y="58.8" font-size="15" fill="#1e222d" textLength="135.4" lengthAdjust="spacingAndGlyphs">EMA 20/50/100/200</text>
<text x="165.7" y="58.8" font-size="15" fill="#ff0000" textLength="46.2" lengthAdjust="spacingAndGlyphs">90.480</text>
<text x="219.5" y="58.8" font-size="15" fill="#ff8000" textLength="46.2" lengthAdjust="spacingAndGlyphs">91.572</text>
<text x="273.3" y="58.8" font-size="15" fill="#673ab7" textLength="46" lengthAdjust="spacingAndGlyphs">92.331</text>
<text x="327.3" y="58.8" font-size="15" fill="#0000ff" textLength="45.6" lengthAdjust="spacingAndGlyphs">91.661</text>
<text x="22.6" y="79.6" font-size="15" fill="#1e222d" textLength="250.3" lengthAdjust="spacingAndGlyphs">Pivots (Traditional, Daily, 1, Right, 1)</text>
<text x="22.6" y="100.6" font-size="15" fill="#1e222d" textLength="174.4" lengthAdjust="spacingAndGlyphs">HighLowZone (1700-1700)</text>
<text x="22.6" y="555.8" font-size="15" fill="#1e222d" textLength="176.4" lengthAdjust="spacingAndGlyphs">RSI (14, close, SMA, 14, 2)</text>
<text x="207.5" y="555.8" font-size="15" fill="#7e57c2" textLength="37.5" lengthAdjust="spacingAndGlyphs">52.06</text>
<text x="22.6" y="703" font-size="15" fill="#1e222d" textLength="96.4" lengthAdjust="spacingAndGlyphs">ROC (9, close)</text>
<text x="127" y="703" font-size="15" fill="#2962ff" textLength="30.4" lengthAdjust="spacingAndGlyphs">0.64</text>
<text x="1651.3" y="99.6" font-size="13.5" fill="#f542f0" textLength="59.5" lengthAdjust="spacingAndGlyphs">2022 High</text>
<text x="1409.6" y="499.6" font-size="17" fill="#1e222d" textLength="121.4" lengthAdjust="spacingAndGlyphs" stroke="#1e222d" stroke-width="0.35">Double bottom</text>
<text x="1730.6" y="56" font-size="15" fill="#1e222d" textLength="25.6" lengthAdjust="spacingAndGlyphs">JPY</text>
<text x="1731.3" y="109.9" font-size="15" fill="#1e222d" textLength="46.2" lengthAdjust="spacingAndGlyphs">98.000</text>
<text x="1731.3" y="179.9" font-size="15" fill="#1e222d" textLength="46.2" lengthAdjust="spacingAndGlyphs">96.000</text>
<text x="1731.3" y="249.9" font-size="15" fill="#1e222d" textLength="46.2" lengthAdjust="spacingAndGlyphs">94.000</text>
<text x="1731.3" y="459.9" font-size="15" fill="#1e222d" textLength="46.2" lengthAdjust="spacingAndGlyphs">88.000</text>
<text x="1731.3" y="529.9" font-size="15" fill="#1e222d" textLength="46.2" lengthAdjust="spacingAndGlyphs">86.000</text>
<text x="1731.3" y="584.1" font-size="15" fill="#1e222d" textLength="38.1" lengthAdjust="spacingAndGlyphs">60.00</text>
<text x="1731.3" y="633.1" font-size="15" fill="#1e222d" textLength="38.1" lengthAdjust="spacingAndGlyphs">40.00</text>
<text x="1732.3" y="688.9" font-size="15" fill="#1e222d" textLength="29.4" lengthAdjust="spacingAndGlyphs">4.00</text>
<text x="1732.3" y="742.6999999999999" font-size="15" fill="#1e222d" textLength="29.4" lengthAdjust="spacingAndGlyphs">0.00</text>
<text x="1732.5" y="795.9" font-size="15" fill="#1e222d" textLength="38.5" lengthAdjust="spacingAndGlyphs">−4.00</text>
<rect x="1719" y="74" width="65" height="20.6" rx="2" fill="#f542f0"/>
<text x="1731.3" y="89.6" font-size="15" fill="#fff" textLength="46.2" lengthAdjust="spacingAndGlyphs" stroke="#fff" stroke-width="0.35">98.599</text>
<rect x="1719" y="200" width="65" height="20.8" rx="2" fill="#000"/>
<text x="1731.3" y="215.7" font-size="15" fill="#fff" textLength="46.2" lengthAdjust="spacingAndGlyphs" stroke="#fff" stroke-width="0.35">95.000</text>
<rect x="1719" y="250.5" width="65" height="20.7" rx="2" fill="#673ab7"/>
<text x="1731.3" y="266.2" font-size="15" fill="#fff" textLength="46.2" lengthAdjust="spacingAndGlyphs" stroke="#fff" stroke-width="0.35">92.331</text>
<rect x="1719" y="271.8" width="65" height="20.7" rx="2" fill="#008000"/>
<text x="1731.3" y="287.4" font-size="15" fill="#fff" textLength="46.2" lengthAdjust="spacingAndGlyphs" stroke="#fff" stroke-width="0.35">91.820</text>
<rect x="1719" y="293" width="65" height="20.8" rx="2" fill="#0000ff"/>
<text x="1731.3" y="308.7" font-size="15" fill="#fff" textLength="46.2" lengthAdjust="spacingAndGlyphs" stroke="#fff" stroke-width="0.35">91.661</text>
<rect x="1719" y="314" width="65" height="20.9" rx="2" fill="#ff8000"/>
<text x="1731.3" y="329.8" font-size="15" fill="#fff" textLength="46.2" lengthAdjust="spacingAndGlyphs" stroke="#fff" stroke-width="0.35">91.572</text>
<rect x="1653.3" y="335.2" width="130.70000000000005" height="20.4" rx="2" fill="#089981"/>
<text x="1731.3" y="350.7" font-size="15" fill="#fff" textLength="46.2" lengthAdjust="spacingAndGlyphs" stroke="#fff" stroke-width="0.35">91.122</text>
<text x="1659.3" y="350.7" font-size="15" fill="#fff" textLength="50.7" lengthAdjust="spacingAndGlyphs" stroke="#fff" stroke-width="0.2">AUDJPY</text>
<rect x="1719" y="360" width="65" height="30" fill="#000"/>
<rect x="1719" y="357" width="65" height="21.0" rx="2" fill="#000"/>
<text x="1731.3" y="372.8" font-size="15" fill="#fff" textLength="46.2" lengthAdjust="spacingAndGlyphs" stroke="#fff" stroke-width="0.35">90.834</text>
<rect x="1719" y="378" width="65" height="20.7" rx="2" fill="#000"/>
<text x="1731.3" y="393.7" font-size="15" fill="#fff" textLength="46.2" lengthAdjust="spacingAndGlyphs" stroke="#fff" stroke-width="0.35">90.521</text>
<rect x="1719" y="399.3" width="65" height="20.5" rx="2" fill="#ff0000"/>
<text x="1731.3" y="414.9" font-size="15" fill="#fff" textLength="46.2" lengthAdjust="spacingAndGlyphs" stroke="#fff" stroke-width="0.35">90.480</text>
<rect x="1719" y="427.2" width="65" height="20.5" rx="2" fill="#000"/>
<text x="1731.3" y="442.8" font-size="15" fill="#fff" textLength="46.2" lengthAdjust="spacingAndGlyphs" stroke="#fff" stroke-width="0.35">88.496</text>
<rect x="1719" y="465" width="65" height="20.8" rx="2" fill="#ff0000"/>
<text x="1731.3" y="480.7" font-size="15" fill="#fff" textLength="46.2" lengthAdjust="spacingAndGlyphs" stroke="#fff" stroke-width="0.35">87.411</text>
<rect x="1719" y="487.1" width="65" height="20.7" rx="2" fill="#000"/>
<text x="1731.3" y="502.8" font-size="15" fill="#fff" textLength="46.2" lengthAdjust="spacingAndGlyphs" stroke="#fff" stroke-width="0.35">87.302</text>
<rect x="1719" y="589" width="58" height="20.8" rx="2" fill="#7e57c2"/>
<text x="1731.3" y="604.7" font-size="15" fill="#fff" textLength="38.1" lengthAdjust="spacingAndGlyphs" stroke="#fff" stroke-width="0.35">52.06</text>
<rect x="1719" y="719" width="50" height="20.7" rx="2" fill="#2962ff"/>
<text x="1732.3" y="734.6" font-size="15" fill="#fff" textLength="29.4" lengthAdjust="spacingAndGlyphs" stroke="#fff" stroke-width="0.35">0.64</text>
<text x="146.9" y="837.7" font-size="15" fill="#1e222d" text-anchor="middle">18</text>
<text x="260.1" y="837.7" font-size="15" fill="#1e222d" text-anchor="middle">Aug</text>
<text x="373.2" y="837.7" font-size="15" fill="#1e222d" text-anchor="middle">15</text>
<text x="520.2" y="837.7" font-size="15" fill="#1e222d" text-anchor="middle">Sep</text>
<text x="656.0" y="837.7" font-size="15" fill="#1e222d" text-anchor="middle">19</text>
<text x="769.1" y="837.7" font-size="15" fill="#1e222d" text-anchor="middle">Oct</text>
<text x="882.2" y="837.7" font-size="15" fill="#1e222d" text-anchor="middle">17</text>
<text x="1006.6" y="837.7" font-size="15" fill="#1e222d" text-anchor="middle">Nov</text>
<text x="1108.5" y="837.7" font-size="15" fill="#1e222d" text-anchor="middle">14</text>
<text x="1255.5" y="837.7" font-size="15" fill="#1e222d" text-anchor="middle">Dec</text>
<text x="1391.3" y="837.7" font-size="15" fill="#1e222d" text-anchor="middle">19</text>
<text x="1617.5" y="837.7" font-size="15" fill="#1e222d" text-anchor="middle">16</text>
<text x="13.2" y="837.7" font-size="15" fill="#1e222d">Jul</text>
<text x="1504.4" y="837.7" font-size="15" fill="#1e222d" text-anchor="middle" font-weight="bold">2023</text>
<g>
<circle cx="1572.5" cy="513.2" r="11.9" fill="#fff" stroke="#9c27b0" stroke-width="1.6"/>
<path d="M1576.8,506.6 L1566.3,514.5 L1572.6,514.1 L1568.4,520.6 L1579,512.1 L1573.2,512.5 Z" fill="#9c27b0"/>
<circle cx="1594.5" cy="513.9" r="12.7" fill="#fff" stroke="#f23645" stroke-width="1.8"/>
<clipPath id="fl"><circle cx="1594.4" cy="514" r="10"/></clipPath>
<g clip-path="url(#fl)">
<rect x="1584" y="503" width="21" height="22" fill="#0d47a1"/>
<rect x="1584" y="503" width="10.3" height="10.8" fill="#fbe4e4"/>
<rect x="1588" y="507.3" width="6.3" height="6.5" fill="#0d47a1"/>
<path d="M1588,507.3 L1594.3,513.8" stroke="#fff" stroke-width="2.6"/>
<path d="M1588,507.3 L1594.3,513.8" stroke="#f44336" stroke-width="1"/>
<rect x="1587" y="505" width="7.3" height="1.8" fill="#f44336"/>
<rect x="1585" y="507.6" width="2.4" height="6.2" fill="#f44336"/>
<circle cx="1589.9" cy="518.1" r="1.7" fill="#fff"/><circle cx="1598.7" cy="509.3" r="0.9" fill="#fff"/><circle cx="1601.1" cy="511.9" r="1" fill="#fff"/><circle cx="1596.2" cy="512.8" r="0.9" fill="#fff"/><circle cx="1599.5" cy="515.2" r="0.5" fill="#fff"/><circle cx="1598.7" cy="518.7" r="0.9" fill="#fff"/>
</g></g>
<g fill="#131722">
<path d="M13,866.1 H22.6 V877.6 H16.6 V870.8 H13 Z"/>
<circle cx="27" cy="868.3" r="2.2"/>
<path d="M31.3,866.1 H37 L32.9,877.6 H26.5 Z"/>
</g>
<text x="42.5" y="877.6" font-size="15" fill="#131722" textLength="86.6" lengthAdjust="spacingAndGlyphs">TradingView</text>
</svg>
</body></html>
